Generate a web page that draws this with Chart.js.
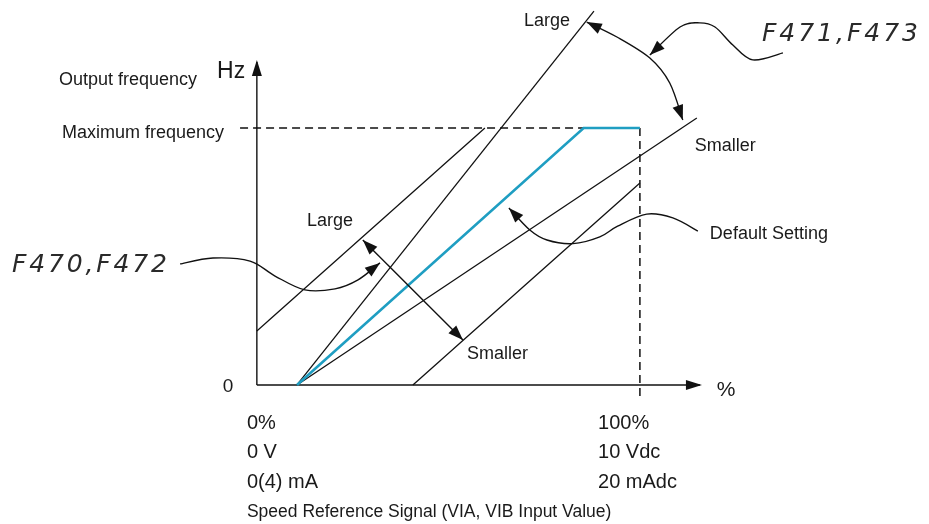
<!DOCTYPE html>
<html>
<head>
<meta charset="utf-8">
<script src="https://cdn.jsdelivr.net/npm/chart.js@4"></script>
<style>
html,body{margin:0;padding:0;background:#fff;overflow:hidden;}
#wrap{width:929px;height:524px;}
</style>
</head>
<body>
<div id="wrap"><canvas id="c" width="929" height="524"></canvas></div>
<script>
// ---- data (x: % of speed reference signal, y: % of maximum frequency) ----
const defaultSetting = [{x:0,y:0},{x:83.6,y:100},{x:100,y:100}];
const biasLarge      = [{x:-11.7,y:21.0},{x:54.8,y:100}];
const biasSmaller    = [{x:33.8,y:0},{x:100,y:78.6}];
const gainLarge      = [{x:0,y:0},{x:86.6,y:145.5}];
const gainSmaller    = [{x:0,y:0},{x:116.6,y:103.9}];
const maxFreqLine    = [{x:-16.6,y:100},{x:100,y:100}];
const fullScaleLine  = [{x:100,y:100},{x:100,y:-5.8}];
const yAxisLine      = [{x:-11.7,y:0},{x:-11.7,y:125.7}];
const xAxisLine      = [{x:-11.7,y:0},{x:117.5,y:0}];

// annotation paths (data units)
const arcGain   = [[84.5,141.2],[93.3,135.4],[102.9,127.2],[108.7,117.5],[112.5,103.1]];
const pointerGain = [[141.7,129.2],[132.9,126.5],[127.1,132.3],[121.9,139.3],[117.5,140.9],[111.7,139.3],[102.9,128.4]];
const arrowBias = [[19.2,56.4],[48.4,17.5]];
const pointerBias = [[-34.1,47.1],[-24.5,49.4],[-13.7,48.2],[-6.4,42.4],[2.3,37.0],[11.1,37.4],[17.8,40.9],[24.2,47.5]];
const pointerDefault = [[116.9,59.9],[109.6,65.0],[102.0,66.5],[93.5,61.8],[88.3,57.6],[80.5,55.0],[72.9,56.4],[67.9,60.3],[61.8,68.9]];

// labels: [text, x, y, font, align]
const labels = [
  ["Output frequency", -69.4, 118.7, "18px 'Liberation Sans', Arial", "left"],
  ["Hz", -23.3, 121.8, "23px 'Liberation Sans', Arial", "left"],
  ["Maximum frequency", -68.5, 98.1, "18px 'Liberation Sans', Arial", "left"],
  ["0", -20.1, -0.8, "19px 'Liberation Sans', Arial", "center"],
  ["%", 122.4, -1.9, "21px 'Liberation Sans', Arial", "left"],
  ["0%", -14.6, -14.8, "20px 'Liberation Sans', Arial", "left"],
  ["0 V", -14.6, -26.1, "20px 'Liberation Sans', Arial", "left"],
  ["0(4) mA", -14.6, -38.1, "20px 'Liberation Sans', Arial", "left"],
  ["100%", 87.8, -14.8, "20px 'Liberation Sans', Arial", "left"],
  ["10 Vdc", 87.8, -26.1, "20px 'Liberation Sans', Arial", "left"],
  ["20 mAdc", 87.8, -38.1, "20px 'Liberation Sans', Arial", "left"],
  ["Speed Reference Signal (VIA, VIB Input Value)", -14.6, -49.4, "17.5px 'Liberation Sans', Arial", "left"],
  ["Large", 9.6, 63.8, "18px 'Liberation Sans', Arial", "center"],
  ["Smaller", 49.6, 12.1, "18px 'Liberation Sans', Arial", "left"],
  ["Large", 66.2, 141.6, "18px 'Liberation Sans', Arial", "left"],
  ["Smaller", 116.0, 93.0, "18px 'Liberation Sans', Arial", "left"],
  ["Default Setting", 120.4, 58.8, "18px 'Liberation Sans', Arial", "left"]
];
// parameter codes: [text, x, y, target width in px]
const paramLabels = [
  ["F471,F473", 135.6, 136.2, 156],
  ["F470,F472", -83.1, 46.3, 155]
];

const black = "#111";
function lineDs(data, color, width, dash){
  return {data, borderColor:color, borderWidth:width, borderDash:dash||[], showLine:true,
          pointRadius:0, fill:false, tension:0, borderCapStyle:'butt'};
}

function px(chart, p){
  const x = Array.isArray(p) ? p[0] : p.x, y = Array.isArray(p) ? p[1] : p.y;
  return [chart.scales.x.getPixelForValue(x), chart.scales.y.getPixelForValue(y)];
}
function arrowHead(ctx, tip, from, len, half){
  const dx = tip[0]-from[0], dy = tip[1]-from[1];
  const d = Math.hypot(dx,dy)||1, ux=dx/d, uy=dy/d;
  const bx = tip[0]-ux*len, by = tip[1]-uy*len;
  ctx.beginPath();
  ctx.moveTo(tip[0],tip[1]);
  ctx.lineTo(bx-uy*half, by+ux*half);
  ctx.lineTo(bx+uy*half, by-ux*half);
  ctx.closePath();
  ctx.fill();
}
function smoothPath(ctx, pts){
  ctx.beginPath();
  ctx.moveTo(pts[0][0],pts[0][1]);
  for(let i=0;i<pts.length-1;i++){
    const p0=pts[Math.max(i-1,0)], p1=pts[i], p2=pts[i+1], p3=pts[Math.min(i+2,pts.length-1)];
    const c1=[p1[0]+(p2[0]-p0[0])/6, p1[1]+(p2[1]-p0[1])/6];
    const c2=[p2[0]-(p3[0]-p1[0])/6, p2[1]-(p3[1]-p1[1])/6];
    ctx.bezierCurveTo(c1[0],c1[1],c2[0],c2[1],p2[0],p2[1]);
  }
  ctx.stroke();
}

const annot = {
  id:'annot',
  afterDatasetsDraw(chart){
    const ctx = chart.ctx;
    ctx.save();
    ctx.strokeStyle = black; ctx.fillStyle = black; ctx.lineWidth = 1.4;
    // axis arrowheads
    const yTop = px(chart, yAxisLine[1]), yBot = px(chart, yAxisLine[0]);
    arrowHead(ctx, [yTop[0], yTop[1]-2], yBot, 16, 5);
    const xR = px(chart, xAxisLine[1]), xL = px(chart, xAxisLine[0]);
    arrowHead(ctx, [xR[0]+2, xR[1]], xL, 16, 5);
    // curves
    const curves = [[arcGain,true,true],[pointerGain,false,true],[pointerBias,false,true],[pointerDefault,false,true]];
    curves.forEach(([pts,startHead,endHead])=>{
      const P = pts.map(p=>px(chart,p));
      smoothPath(ctx, P);
      if(endHead) arrowHead(ctx, P[P.length-1], P[P.length-2], 15, 5.5);
      if(startHead) arrowHead(ctx, P[0], P[1], 15, 5.5);
    });
    // straight double arrow
    const a = px(chart, arrowBias[0]), b = px(chart, arrowBias[1]);
    ctx.beginPath(); ctx.moveTo(a[0],a[1]); ctx.lineTo(b[0],b[1]); ctx.stroke();
    arrowHead(ctx, a, b, 15, 5.5);
    arrowHead(ctx, b, a, 15, 5.5);
    // labels
    ctx.fillStyle = "#1a1a1a";
    ctx.textBaseline = "middle";
    labels.forEach(([t,x,y,f,al])=>{
      const p = px(chart,[x,y]);
      ctx.font = f; ctx.textAlign = al;
      ctx.fillText(t, p[0], p[1]);
    });
    // parameter codes, light italic, spaced to width
    ctx.font = "italic 200 25px 'DejaVu Sans', sans-serif";
    ctx.textAlign = "left";
    ctx.fillStyle = "#2a2a2a";
    paramLabels.forEach(([t,x,y,w])=>{
      const p = px(chart,[x,y]);
      if ('letterSpacing' in ctx) {
        ctx.letterSpacing = "0px";
        const base = ctx.measureText(t).width;
        const sp = Math.max(0, (w - base) / (t.length - 1));
        ctx.letterSpacing = sp.toFixed(2) + "px";
      }
      ctx.fillText(t, p[0], p[1]);
    });
    ctx.restore();
  }
};

new Chart(document.getElementById('c'), {
  type:'scatter',
  data:{datasets:[
    lineDs(defaultSetting, "#1f9ec2", 2.6),
    lineDs(biasLarge, black, 1.3),
    lineDs(biasSmaller, black, 1.3),
    lineDs(gainLarge, black, 1.3),
    lineDs(gainSmaller, black, 1.3),
    lineDs(maxFreqLine, black, 1.5, [8,5]),
    lineDs(fullScaleLine, black, 1.5, [8,5]),
    lineDs(yAxisLine, black, 1.4),
    lineDs(xAxisLine, black, 1.4)
  ]},
  options:{
    responsive:false, animation:false, events:[],
    layout:{padding:0},
    clip:false,
    plugins:{legend:{display:false}, tooltip:{enabled:false}},
    scales:{
      x:{type:'linear', display:false, min:-86.6, max:184.3},
      y:{type:'linear', display:false, min:-54.1, max:149.8}
    }
  },
  plugins:[annot]
});
</script>
</body>
</html>
